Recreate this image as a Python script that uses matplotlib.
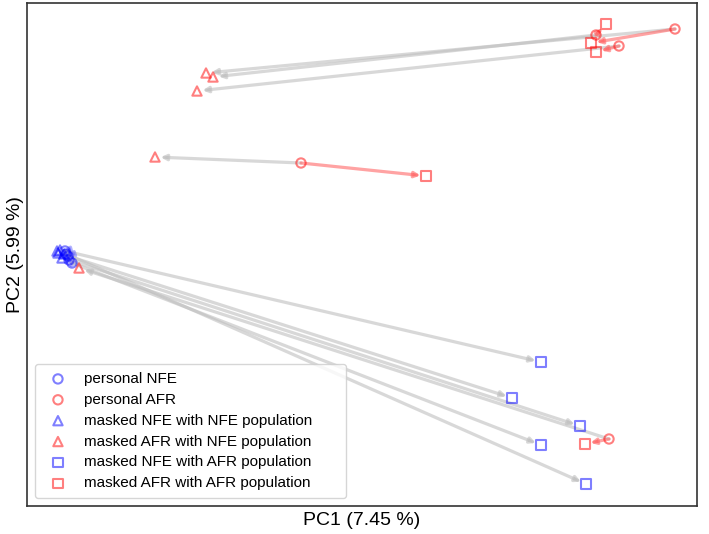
import numpy as np
import matplotlib
matplotlib.use("Agg")
import matplotlib.pyplot as plt

plt.rcParams['font.family'] = ['Liberation Sans', 'DejaVu Sans']

# PCA coordinates (axes carry no ticks, arbitrary units)
# personal samples
nfe_pc1 = [0.038, 0.041, 0.042, 0.045, 0.039]
nfe_pc2 = [0.255, 0.250, 0.246, 0.243, 0.252]
afr_pc1 = [0.648, 0.569, 0.592, 0.274, 0.582]
afr_pc2 = [0.477, 0.471, 0.460, 0.343, 0.067]

# masked with NFE population
nfe_nfe_pc1 = [0.031, 0.035, 0.033, 0.037, 0.030]
nfe_nfe_pc2 = [0.253, 0.248, 0.256, 0.252, 0.255]
afr_nfe_pc1 = [0.179, 0.186, 0.170, 0.128, 0.052]
afr_nfe_pc2 = [0.433, 0.429, 0.415, 0.349, 0.238]

# masked with AFR population
nfe_afr_pc1 = [0.514, 0.485, 0.553, 0.514, 0.559]
nfe_afr_pc2 = [0.144, 0.108, 0.080, 0.061, 0.022]
afr_afr_pc1 = [0.564, 0.579, 0.569, 0.399, 0.558]
afr_afr_pc2 = [0.463, 0.482, 0.454, 0.330, 0.062]

fig = plt.figure(figsize=(7.09, 5.34), dpi=100)
ax = fig.add_axes([27/709, 28/534, 670/709, 503/534])

grey = (0.75, 0.75, 0.75, 0.6)
blue = (0, 0, 1, 0.5)
red = (1, 0, 0, 0.5)


def arrow(x0, y0, x1, y1, col):
    ax.annotate('', xy=(x1, y1), xytext=(x0, y0),
                arrowprops=dict(arrowstyle='-|>', color=col, lw=2.3,
                                mutation_scale=8, shrinkA=0, shrinkB=4),
                zorder=1)


for i in range(len(nfe_pc1)):
    arrow(nfe_pc1[i], nfe_pc2[i], nfe_nfe_pc1[i], nfe_nfe_pc2[i], (0.4, 0.4, 1, 0.5))
    arrow(nfe_pc1[i], nfe_pc2[i], nfe_afr_pc1[i], nfe_afr_pc2[i], grey)
for i in range(len(afr_pc1)):
    arrow(afr_pc1[i], afr_pc2[i], afr_nfe_pc1[i], afr_nfe_pc2[i], grey)
    arrow(afr_pc1[i], afr_pc2[i], afr_afr_pc1[i], afr_afr_pc2[i], (1, 0.4, 0.4, 0.6))

kw = dict(s=45, facecolors='none', linewidths=1.5, zorder=3)
ax.scatter(nfe_pc1, nfe_pc2, marker='o', edgecolors=[blue], label='personal NFE', **kw)
ax.scatter(afr_pc1, afr_pc2, marker='o', edgecolors=[red], label='personal AFR', **kw)
ax.scatter(nfe_nfe_pc1, nfe_nfe_pc2, marker='^', edgecolors=[blue], label='masked NFE with NFE population', **kw)
ax.scatter(afr_nfe_pc1, afr_nfe_pc2, marker='^', edgecolors=[red], label='masked AFR with NFE population', **kw)
ax.scatter(nfe_afr_pc1, nfe_afr_pc2, marker='s', edgecolors=[blue], label='masked NFE with AFR population', **kw)
ax.scatter(afr_afr_pc1, afr_afr_pc2, marker='s', edgecolors=[red], label='masked AFR with AFR population', **kw)

ax.set_xlim(0, 0.670)
ax.set_ylim(0, 0.503)
ax.set_xticks([])
ax.set_yticks([])
for sp in ax.spines.values():
    sp.set_linewidth(1.2)
    sp.set_color('#333333')

ax.set_xlabel('PC1 (7.45 %)', fontsize=14, labelpad=4)
ax.set_ylabel('PC2 (5.99 %)', fontsize=14, labelpad=2)

leg = ax.legend(loc='lower left', bbox_to_anchor=(0.012, 0.016, 0.464, 0.27),
                mode='expand', borderaxespad=0, fontsize=11, frameon=True,
                handletextpad=0.7, labelspacing=0.45, borderpad=0.5)
leg.get_frame().set_edgecolor('#cccccc')

fig.savefig('out.png', dpi=100)
